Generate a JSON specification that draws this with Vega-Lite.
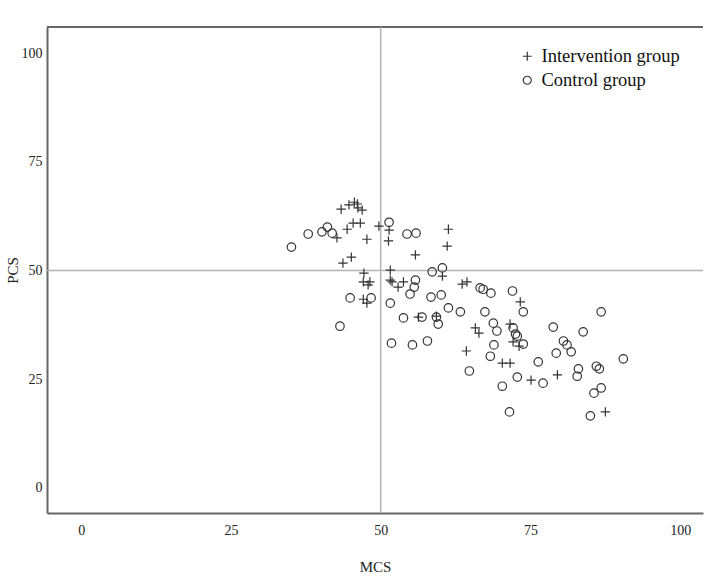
{
  "$schema": "https://vega.github.io/schema/vega-lite/v6.json",
  "width": 656,
  "height": 486,
  "autosize": {"type": "none"},
  "padding": {"left": 47, "top": 27, "right": 13, "bottom": 73},
  "config": {
    "view": {"stroke": null},
    "font": "Liberation Serif",
    "legend": {"labelFont": "Liberation Serif", "titleFont": "Liberation Serif"},
    "axisX": {"domainColor": "#666", "domainWidth": 2, "ticks": false, "grid": false, "labelFont": "Liberation Serif", "labelFontSize": 14, "labelColor": "#222", "labelPadding": 10, "titleFont": "Liberation Serif", "titleFontSize": 15, "titleFontWeight": "normal", "titleColor": "#222", "titlePadding": 22},
    "axisY": {"domainColor": "#666", "domainWidth": 2, "ticks": false, "grid": false, "labelFont": "Liberation Serif", "labelFontSize": 14, "labelColor": "#222", "labelPadding": 5, "titleFont": "Liberation Serif", "titleFontSize": 15, "titleFontWeight": "normal", "titleColor": "#222", "titlePadding": 1}
  },
  "datasets": {
    "points": [
      {"MCS": 43.4, "PCS": 64.1, "group": "Intervention group"},
      {"MCS": 44.7, "PCS": 65.1, "group": "Intervention group"},
      {"MCS": 45.6, "PCS": 65.7, "group": "Intervention group"},
      {"MCS": 46.1, "PCS": 65.3, "group": "Intervention group"},
      {"MCS": 46.2, "PCS": 64.4, "group": "Intervention group"},
      {"MCS": 46.9, "PCS": 63.9, "group": "Intervention group"},
      {"MCS": 45.4, "PCS": 60.9, "group": "Intervention group"},
      {"MCS": 46.6, "PCS": 60.9, "group": "Intervention group"},
      {"MCS": 44.4, "PCS": 59.5, "group": "Intervention group"},
      {"MCS": 42.7, "PCS": 57.5, "group": "Intervention group"},
      {"MCS": 47.7, "PCS": 57.2, "group": "Intervention group"},
      {"MCS": 49.7, "PCS": 60.2, "group": "Intervention group"},
      {"MCS": 51.4, "PCS": 59.3, "group": "Intervention group"},
      {"MCS": 51.3, "PCS": 56.8, "group": "Intervention group"},
      {"MCS": 55.8, "PCS": 53.6, "group": "Intervention group"},
      {"MCS": 61.3, "PCS": 59.5, "group": "Intervention group"},
      {"MCS": 61.1, "PCS": 55.6, "group": "Intervention group"},
      {"MCS": 43.7, "PCS": 51.7, "group": "Intervention group"},
      {"MCS": 45.1, "PCS": 53.1, "group": "Intervention group"},
      {"MCS": 47.2, "PCS": 49.4, "group": "Intervention group"},
      {"MCS": 47.1, "PCS": 47.4, "group": "Intervention group"},
      {"MCS": 48.2, "PCS": 47.4, "group": "Intervention group"},
      {"MCS": 47.9, "PCS": 46.7, "group": "Intervention group"},
      {"MCS": 51.6, "PCS": 50.1, "group": "Intervention group"},
      {"MCS": 51.6, "PCS": 47.8, "group": "Intervention group"},
      {"MCS": 51.9, "PCS": 47.4, "group": "Intervention group"},
      {"MCS": 52.9, "PCS": 46.2, "group": "Intervention group"},
      {"MCS": 53.8, "PCS": 47.4, "group": "Intervention group"},
      {"MCS": 60.3, "PCS": 48.7, "group": "Intervention group"},
      {"MCS": 63.6, "PCS": 46.9, "group": "Intervention group"},
      {"MCS": 64.4, "PCS": 47.4, "group": "Intervention group"},
      {"MCS": 47.1, "PCS": 43.4, "group": "Intervention group"},
      {"MCS": 47.7, "PCS": 42.5, "group": "Intervention group"},
      {"MCS": 64.3, "PCS": 31.5, "group": "Intervention group"},
      {"MCS": 59.3, "PCS": 39.5, "group": "Intervention group"},
      {"MCS": 56.3, "PCS": 39.3, "group": "Intervention group"},
      {"MCS": 65.8, "PCS": 36.8, "group": "Intervention group"},
      {"MCS": 66.4, "PCS": 35.6, "group": "Intervention group"},
      {"MCS": 71.6, "PCS": 37.7, "group": "Intervention group"},
      {"MCS": 72.1, "PCS": 33.6, "group": "Intervention group"},
      {"MCS": 73.1, "PCS": 32.6, "group": "Intervention group"},
      {"MCS": 70.3, "PCS": 28.7, "group": "Intervention group"},
      {"MCS": 71.6, "PCS": 28.7, "group": "Intervention group"},
      {"MCS": 75.1, "PCS": 24.8, "group": "Intervention group"},
      {"MCS": 79.5, "PCS": 26.0, "group": "Intervention group"},
      {"MCS": 87.5, "PCS": 17.5, "group": "Intervention group"},
      {"MCS": 73.3, "PCS": 42.8, "group": "Intervention group"},
      {"MCS": 35.1, "PCS": 55.4, "group": "Control group"},
      {"MCS": 37.9, "PCS": 58.4, "group": "Control group"},
      {"MCS": 40.2, "PCS": 58.9, "group": "Control group"},
      {"MCS": 41.1, "PCS": 60.0, "group": "Control group"},
      {"MCS": 41.9, "PCS": 58.6, "group": "Control group"},
      {"MCS": 51.4, "PCS": 61.1, "group": "Control group"},
      {"MCS": 54.4, "PCS": 58.4, "group": "Control group"},
      {"MCS": 55.9, "PCS": 58.6, "group": "Control group"},
      {"MCS": 58.6, "PCS": 49.7, "group": "Control group"},
      {"MCS": 60.3, "PCS": 50.6, "group": "Control group"},
      {"MCS": 55.8, "PCS": 47.8, "group": "Control group"},
      {"MCS": 55.6, "PCS": 46.2, "group": "Control group"},
      {"MCS": 54.9, "PCS": 44.6, "group": "Control group"},
      {"MCS": 58.4, "PCS": 43.9, "group": "Control group"},
      {"MCS": 60.1, "PCS": 44.4, "group": "Control group"},
      {"MCS": 44.9, "PCS": 43.7, "group": "Control group"},
      {"MCS": 48.4, "PCS": 43.7, "group": "Control group"},
      {"MCS": 51.6, "PCS": 42.5, "group": "Control group"},
      {"MCS": 53.8, "PCS": 39.1, "group": "Control group"},
      {"MCS": 56.9, "PCS": 39.3, "group": "Control group"},
      {"MCS": 59.3, "PCS": 39.3, "group": "Control group"},
      {"MCS": 59.6, "PCS": 37.7, "group": "Control group"},
      {"MCS": 61.3, "PCS": 41.4, "group": "Control group"},
      {"MCS": 63.3, "PCS": 40.5, "group": "Control group"},
      {"MCS": 43.2, "PCS": 37.2, "group": "Control group"},
      {"MCS": 51.8, "PCS": 33.3, "group": "Control group"},
      {"MCS": 55.3, "PCS": 32.9, "group": "Control group"},
      {"MCS": 57.8, "PCS": 33.8, "group": "Control group"},
      {"MCS": 66.6, "PCS": 46.0, "group": "Control group"},
      {"MCS": 67.1, "PCS": 45.7, "group": "Control group"},
      {"MCS": 68.4, "PCS": 44.8, "group": "Control group"},
      {"MCS": 72.0, "PCS": 45.3, "group": "Control group"},
      {"MCS": 73.8, "PCS": 40.5, "group": "Control group"},
      {"MCS": 67.4, "PCS": 40.5, "group": "Control group"},
      {"MCS": 68.8, "PCS": 37.9, "group": "Control group"},
      {"MCS": 69.4, "PCS": 36.1, "group": "Control group"},
      {"MCS": 72.1, "PCS": 36.8, "group": "Control group"},
      {"MCS": 72.5, "PCS": 35.4, "group": "Control group"},
      {"MCS": 72.8, "PCS": 34.9, "group": "Control group"},
      {"MCS": 73.8, "PCS": 33.1, "group": "Control group"},
      {"MCS": 68.9, "PCS": 32.9, "group": "Control group"},
      {"MCS": 68.3, "PCS": 30.3, "group": "Control group"},
      {"MCS": 64.8, "PCS": 26.9, "group": "Control group"},
      {"MCS": 70.3, "PCS": 23.4, "group": "Control group"},
      {"MCS": 72.8, "PCS": 25.5, "group": "Control group"},
      {"MCS": 76.3, "PCS": 29.0, "group": "Control group"},
      {"MCS": 77.1, "PCS": 24.1, "group": "Control group"},
      {"MCS": 78.8, "PCS": 37.0, "group": "Control group"},
      {"MCS": 79.3, "PCS": 31.0, "group": "Control group"},
      {"MCS": 83.8, "PCS": 35.9, "group": "Control group"},
      {"MCS": 80.5, "PCS": 33.8, "group": "Control group"},
      {"MCS": 81.1, "PCS": 32.9, "group": "Control group"},
      {"MCS": 81.8, "PCS": 31.3, "group": "Control group"},
      {"MCS": 83.0, "PCS": 27.4, "group": "Control group"},
      {"MCS": 82.8, "PCS": 25.7, "group": "Control group"},
      {"MCS": 86.0, "PCS": 28.0, "group": "Control group"},
      {"MCS": 86.5, "PCS": 27.4, "group": "Control group"},
      {"MCS": 71.5, "PCS": 17.5, "group": "Control group"},
      {"MCS": 85.0, "PCS": 16.6, "group": "Control group"},
      {"MCS": 86.8, "PCS": 23.0, "group": "Control group"},
      {"MCS": 85.6, "PCS": 21.8, "group": "Control group"},
      {"MCS": 86.8, "PCS": 40.5, "group": "Control group"},
      {"MCS": 90.5, "PCS": 29.7, "group": "Control group"}
    ]
  },
  "layer": [
    {
      "data": {"values": [{}]},
      "mark": {"type": "rule", "color": "#666", "strokeWidth": 2},
      "encoding": {"y": {"datum": 106, "type": "quantitative"}}
    },
    {
      "data": {"values": [{}]},
      "mark": {"type": "rule", "color": "#b4b4b4", "strokeWidth": 1.5},
      "encoding": {"x": {"datum": 50, "type": "quantitative"}}
    },
    {
      "data": {"values": [{}]},
      "mark": {"type": "rule", "color": "#b4b4b4", "strokeWidth": 1.5},
      "encoding": {"y": {"datum": 50, "type": "quantitative"}}
    },
    {
      "data": {"name": "points"},
      "mark": {"type": "point", "filled": false, "strokeWidth": 1.2, "color": "#333", "opacity": 1, "size": 72},
      "encoding": {
        "x": {"field": "MCS", "type": "quantitative", "title": "MCS", "scale": {"domain": [-5.7, 103.8], "nice": false, "zero": false}, "axis": {"values": [0, 25, 50, 75, 100]}},
        "y": {"field": "PCS", "type": "quantitative", "title": "PCS", "scale": {"domain": [-5.75, 106], "nice": false, "zero": false}, "axis": {"values": [0, 25, 50, 75, 100]}},
        "shape": {
          "field": "group", "type": "nominal",
          "scale": {"domain": ["Intervention group", "Control group"], "range": ["M-1.1,0L1.1,0M0,-1.1L0,1.1", "circle"]},
          "legend": {"orient": "none", "legendX": 471, "legendY": 20, "title": null, "padding": 0, "labelFont": "Liberation Serif", "labelFontSize": 18.5, "labelColor": "#111", "labelOffset": 5, "rowPadding": 5, "symbolSize": 64, "symbolStrokeWidth": 1.2, "symbolStrokeColor": "#333", "symbolFillColor": "transparent"}
        }
      }
    }
  ]
}
